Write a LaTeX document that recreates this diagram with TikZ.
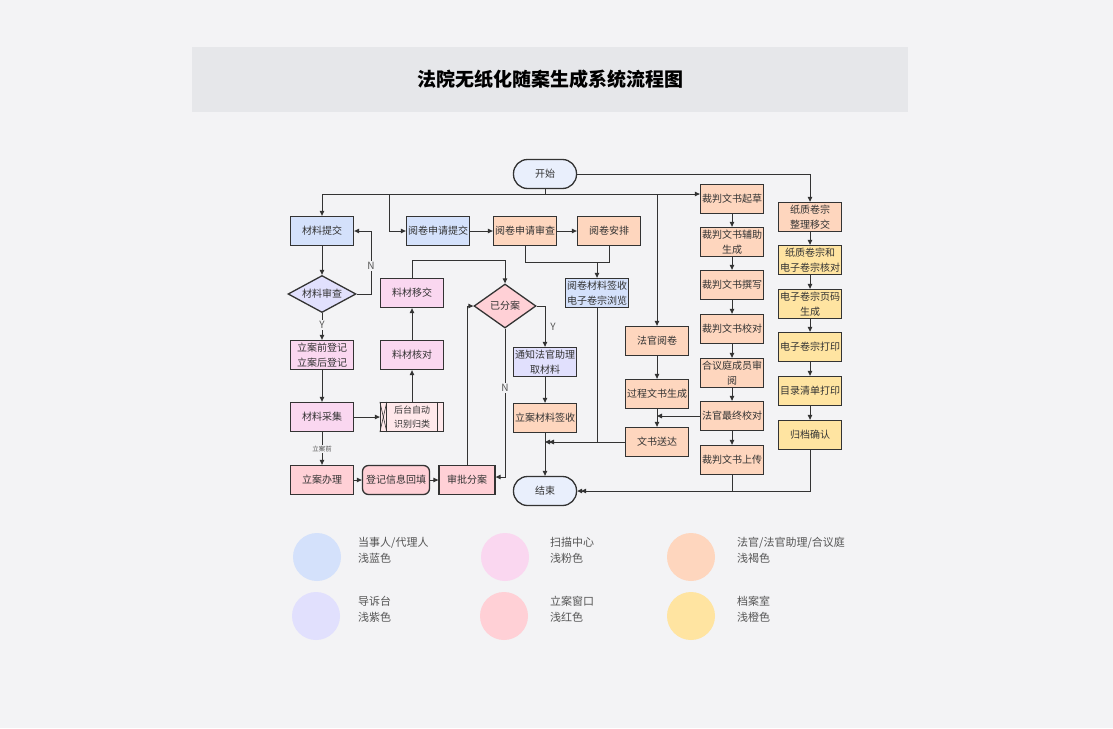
\documentclass[tikz,border=0pt]{standalone}
\usepackage{fontspec}
\setmainfont{Noto Sans CJK SC}
\usetikzlibrary{shapes.geometric,arrows.meta}
\definecolor{bgC}{HTML}{F3F3F5}
\definecolor{titleC}{HTML}{E6E7EA}
\definecolor{lineC}{HTML}{333333}
\definecolor{textC}{HTML}{333333}
\definecolor{legC}{HTML}{555555}
\definecolor{blueC}{HTML}{D4E1FB}
\definecolor{lavC}{HTML}{E1E0FD}
\definecolor{pinkC}{HTML}{FAD7F0}
\definecolor{redC}{HTML}{FFD0D6}
\definecolor{peachC}{HTML}{FED6BE}
\definecolor{yellowC}{HTML}{FFE4A1}
\definecolor{startC}{HTML}{E9EFFC}
\definecolor{hbC}{HTML}{FFE8EA}
\tikzset{
  box/.style={draw=lineC, line width=1.3pt, minimum width=63pt, minimum height=29pt, inner sep=1pt, align=center, font=\fontsize{10}{14.5}\selectfont, text=textC},
  pill/.style={box, rounded corners=14pt},
  dia/.style={diamond, draw=lineC, line width=1.3pt, minimum width=68pt, minimum height=37pt, inner sep=0pt, aspect=1.8, font=\fontsize{10}{14}\selectfont, text=textC},
  conn/.style={draw=lineC, line width=1pt},
  arr/.style={conn, -{Triangle[length=5pt,width=4.5pt]}},
  lbl/.style={fill=bgC, inner sep=1pt, font=\fontsize{10}{12}\selectfont, text=legC},
  legtxt/.style={anchor=west, align=left, inner sep=0pt, font=\fontsize{11}{16}\selectfont, text=legC},
}
\begin{document}
\begin{tikzpicture}[x=1pt,y=-1pt]
\path[fill=bgC] (0,0) rectangle (1113,728);
\fill[titleC] (192,47) rectangle (908,112);
\node[font=\fontsize{19}{19}\selectfont\bfseries, text=black] (title) at (550,79) {法院无纸化随案生成系统流程图};

% nodes
\node[pill,fill=startC] (start) at (545,174) {开始};
\node[box,fill=blueC] (cltj) at (322,231) {材料提交};
\node[box,fill=blueC] (yjsq) at (438,231) {阅卷申请提交};
\node[box,fill=peachC] (yjsc) at (525,231) {阅卷申请审查};
\node[box,fill=peachC] (yjap) at (609,231) {阅卷安排};
\node[box,fill=blueC] (yjqs) at (597,293) {阅卷材料签收\\电子卷宗浏览};
\node[dia,fill=lavC] (clsc) at (322,294) {材料审查};
\node[box,fill=pinkC] (lcyj) at (412,293) {料材移交};
\node[dia,fill=redC,minimum width=62pt,minimum height=44pt,aspect=1.4] (yfa) at (505,306) {已分案};
\node[box,fill=lavC] (tzfg) at (545,362) {通知法官助理\\取材料};
\node[box,fill=peachC] (lacl) at (545,418) {立案材料签收};
\node[box,fill=pinkC] (ladj) at (322,355) {立案前登记\\立案后登记};
\node[box,fill=pinkC] (lchd) at (412,355) {料材核对};
\node[box,fill=pinkC] (clcj) at (322,417) {材料采集};
\node[box,fill=hbC,font=\fontsize{9}{14}\selectfont] (htzd) at (412,417) {后台自动\\识别归类};
\node[box,fill=redC] (labl) at (322,480) {立案办理};
\node[box,fill=redC,rounded corners=6pt,minimum width=67pt] (djxx) at (396,480) {登记信息回填};
\node[box,fill=redC,minimum width=56pt] (spfa) at (467,480) {审批分案};
\node[pill,fill=startC] (end) at (545,491) {结束};
\node[box,fill=peachC] (fgyj) at (657,341) {法官阅卷};
\node[box,fill=peachC] (gcws) at (657,394) {过程文书生成};
\node[box,fill=peachC] (wssd) at (657,442) {文书送达};
\node[box,fill=peachC] (c1) at (732,199) {裁判文书起草};
\node[box,fill=peachC] (c2) at (732,242) {裁判文书辅助\\生成};
\node[box,fill=peachC] (c3) at (732,285) {裁判文书撰写};
\node[box,fill=peachC] (c4) at (732,329) {裁判文书校对};
\node[box,fill=peachC] (c5) at (732,373) {合议庭成员审\\阅};
\node[box,fill=peachC] (c6) at (732,416) {法官最终校对};
\node[box,fill=peachC] (c7) at (732,460) {裁判文书上传};
\node[box,fill=peachC] (d1) at (810,217) {纸质卷宗\\整理移交};
\node[box,fill=yellowC] (d2) at (810,260) {纸质卷宗和\\电子卷宗核对};
\node[box,fill=yellowC] (d3) at (810,304) {电子卷宗页码\\生成};
\node[box,fill=yellowC] (d4) at (810,347) {电子卷宗打印};
\node[box,fill=yellowC] (d5) at (810,391) {目录清单打印};
\node[box,fill=yellowC] (d6) at (810,435) {归档确认};

% decoration of the predefined-process box
\draw[lineC,line width=1pt] ([xshift=7pt]htzd.north west) -- ([xshift=7pt]htzd.south west);
\draw[lineC,line width=0.6pt] (htzd.north west) -- ([xshift=7pt]htzd.south west);
\draw[lineC,line width=0.6pt] (htzd.south west) -- ([xshift=7pt]htzd.north west);
\draw[lineC,line width=1pt] ([xshift=-7pt]htzd.north east) -- ([xshift=-7pt]htzd.south east);

% connectors
\coordinate (bus) at (545,194);
\coordinate (j1) at (389,194);
\draw[conn] (start.south) -- (bus);
\draw[arr] (bus) -| (cltj.north);
\draw[arr] (j1) |- (yjsq.west);
\draw[arr] (bus) -| (fgyj.north);
\draw[arr] (bus) -- (c1.west |- bus);
\draw[arr] (start.east) -| (d1.north);

\draw[arr] (cltj.south) -- (clsc.north);
\draw[arr] (clsc.east) -- ++(15,0) |- (cltj.east);
\node[lbl] (nN1) at (371,266) {N};
\draw[arr] (clsc.south) -- (ladj.north);
\node[lbl] (nY1) at (322,325) {Y};
\draw[arr] (ladj.south) -- (clcj.north);
\draw[arr] (clcj.east) -- (htzd.west);
\draw[arr] (htzd.north) -- (lchd.south);
\draw[arr] (lchd.north) -- (lcyj.south);
\draw[arr] (lcyj.north) -- ++(0,-17) -| (yfa.north);
\draw[arr] (clcj.south) -- (labl.north);
\node[lbl,font=\fontsize{6.5}{8}\selectfont] (nLQ) at (322,449) {立案前};
\draw[arr] (labl.east) -- (djxx.west);
\draw[arr] (djxx.east) -- (spfa.east -| spfa.west);
\draw[arr] (spfa.north) |- (yfa.west);
\draw[arr] (yfa.east) -| (tzfg.north);
\node[text=legC,font=\fontsize{10}{12}\selectfont] (nY2) at (553,327) {Y};
\draw[arr] (yfa.south) |- ([yshift=3pt]spfa.east);
\node[lbl] (nN2) at (505,388) {N};
\draw[arr] (tzfg.south) -- (lacl.north);
\draw[arr] (lacl.south) -- (end.north);

\draw[arr] (yjsq.east) -- (yjsc.west);
\draw[arr] (yjsc.east) -- (yjap.west);
\coordinate (m1) at (597,262);
\draw[conn] (yjsc.south) |- (m1);
\draw[conn] (yjap.south) |- (m1);
\draw[arr] (m1) -- (yjqs.north);
\coordinate (m2) at (549,442);
\coordinate (m3) at (545,442);
\draw[arr] (yjqs.south) |- (m2);
\draw[arr] (wssd.west) -- (m3);

\draw[arr] (fgyj.south) -- (gcws.north);
\draw[arr] (gcws.south) -- (wssd.north);
\draw[arr] (c6.west) -- (gcws.south |- c6.west);

\draw[arr] (c1.south) -- (c2.north);
\draw[arr] (c2.south) -- (c3.north);
\draw[arr] (c3.south) -- (c4.north);
\draw[arr] (c4.south) -- (c5.north);
\draw[arr] (c5.south) -- (c6.north);
\draw[arr] (c6.south) -- (c7.north);
\draw[arr] (c7.south) |- (end.east);
\draw[arr] (d6.south) |- ([xshift=4pt]end.east);

\draw[arr] (d1.south) -- (d2.north);
\draw[arr] (d2.south) -- (d3.north);
\draw[arr] (d3.south) -- (d4.north);
\draw[arr] (d4.south) -- (d5.north);
\draw[arr] (d5.south) -- (d6.north);

% legend
\fill[blueC] (317,557) circle (24);
\fill[lavC] (316,616) circle (24);
\fill[pinkC] (505,557) circle (24);
\fill[redC] (504,616) circle (24);
\fill[peachC] (691,557) circle (24);
\fill[yellowC] (691,616) circle (24);
\node[legtxt] (l1) at (358,550) {当事人/代理人\\浅蓝色};
\node[legtxt] (l2) at (358,609) {导诉台\\浅紫色};
\node[legtxt] (l3) at (550,550) {扫描中心\\浅粉色};
\node[legtxt] (l4) at (550,609) {立案窗口\\浅红色};
\node[legtxt] (l5) at (737,550) {法官/法官助理/合议庭\\浅褐色};
\node[legtxt] (l6) at (737,609) {档案室\\浅橙色};
\end{tikzpicture}
\end{document}
